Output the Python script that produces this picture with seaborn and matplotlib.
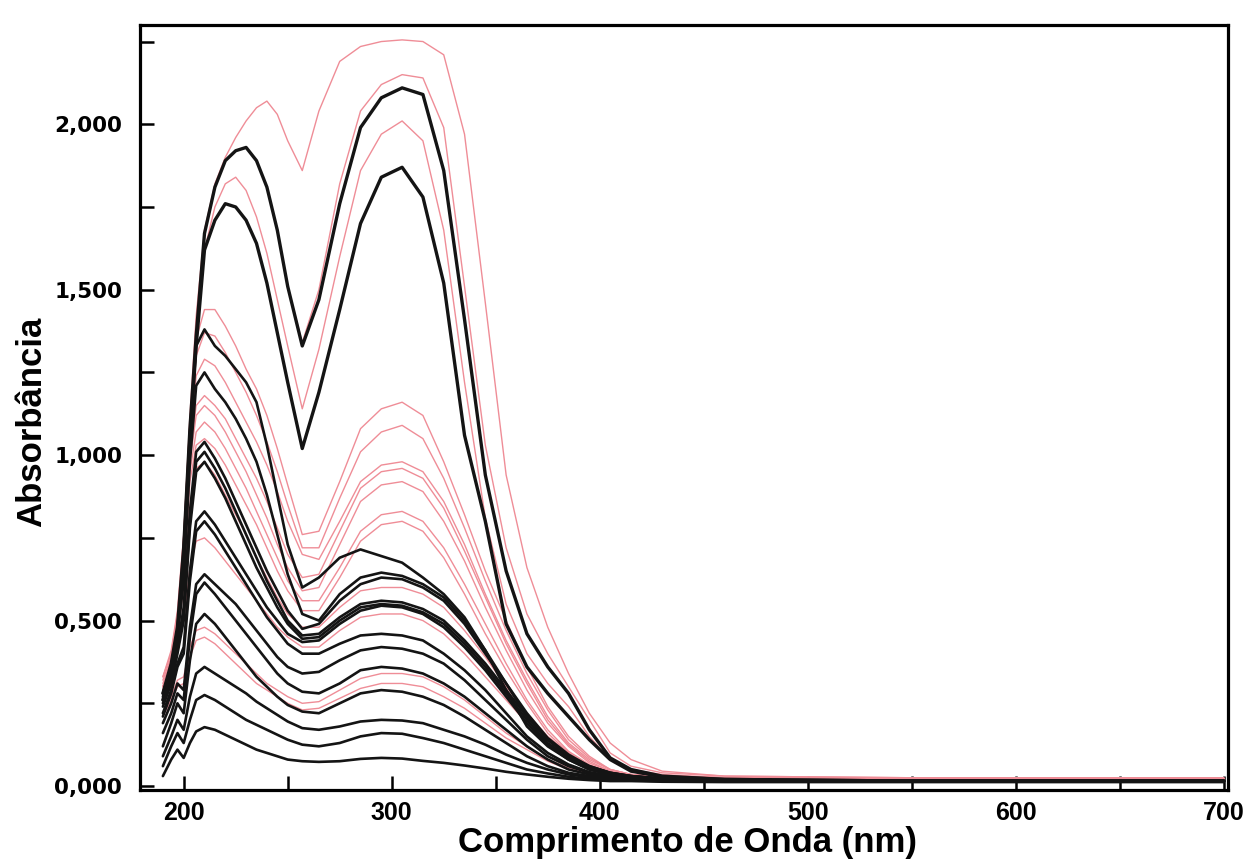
import matplotlib
matplotlib.use("Agg")
import matplotlib.pyplot as plt
import seaborn as sns
import pandas as pd
from matplotlib import font_manager as fm
from matplotlib.ticker import FixedLocator, MultipleLocator

# ---------------- data ----------------
WAVELENGTH = [190, 194, 197, 200, 203, 206,
              210, 215, 220, 225, 230, 235, 240, 245, 250,
              257, 265, 275, 285, 295, 305, 315,
              325, 335, 345, 355, 365, 375, 385, 395, 405, 415,
              430, 460, 550, 700]

# pink spectra
P1 = [0.33, 0.41, 0.53, 0.76, 1.12, 1.42,
      1.68, 1.82, 1.90, 1.96, 2.01, 2.05, 2.07, 2.03, 1.95,
      1.86, 2.04, 2.19, 2.235, 2.25, 2.255, 2.25,
      2.21, 1.97, 1.46, 0.94, 0.66, 0.48, 0.34, 0.22, 0.13, 0.08,
      0.045, 0.03, 0.025, 0.025]
P1B = [0.30, 0.38, 0.50, 0.73, 1.09, 1.37,
       1.67, 1.81, 1.89, 1.92, 1.93, 1.89, 1.81, 1.68, 1.51,
       1.34, 1.50, 1.82, 2.04, 2.12, 2.15, 2.14,
       1.99, 1.51, 1.03, 0.72, 0.52, 0.40, 0.30, 0.20, 0.10, 0.06,
       0.04, 0.03, 0.025, 0.025]
P2 = [0.30, 0.38, 0.50, 0.73, 1.08, 1.35,
      1.62, 1.75, 1.82, 1.84, 1.80, 1.72, 1.61, 1.47, 1.33,
      1.14, 1.32, 1.60, 1.86, 1.97, 2.01, 1.95,
      1.68, 1.22, 0.81, 0.55, 0.40, 0.31, 0.24, 0.15, 0.08, 0.05,
      0.035, 0.025, 0.022, 0.022]
M1 = [0.33, 0.40, 0.52, 0.75, 1.10, 1.35,
      1.44, 1.44, 1.39, 1.33, 1.26, 1.20, 1.12, 1.02, 0.91,
      0.76, 0.77, 0.92, 1.08, 1.14, 1.16, 1.12,
      0.98, 0.82, 0.65, 0.50, 0.36, 0.24, 0.15, 0.09, 0.05, 0.035,
      0.03, 0.025, 0.022, 0.022]
M2 = [0.32, 0.39, 0.51, 0.73, 1.07, 1.30,
      1.37, 1.36, 1.31, 1.25, 1.19, 1.12, 1.04, 0.95, 0.85,
      0.72, 0.72, 0.87, 1.01, 1.07, 1.09, 1.05,
      0.93, 0.78, 0.62, 0.47, 0.34, 0.23, 0.14, 0.085, 0.05, 0.035,
      0.03, 0.025, 0.022, 0.022]
M3 = [0.31, 0.38, 0.50, 0.71, 1.04, 1.24,
      1.29, 1.27, 1.22, 1.16, 1.10, 1.04, 0.97, 0.89, 0.80,
      0.70, 0.685, 0.80, 0.92, 0.97, 0.98, 0.95,
      0.86, 0.73, 0.58, 0.44, 0.32, 0.21, 0.13, 0.08, 0.05, 0.035,
      0.03, 0.025, 0.022, 0.022]
M4 = [0.30, 0.37, 0.49, 0.69, 1.00, 1.15,
      1.18, 1.15, 1.11, 1.05, 0.99, 0.93, 0.86, 0.78, 0.70,
      0.63, 0.64, 0.77, 0.90, 0.95, 0.96, 0.93,
      0.84, 0.71, 0.57, 0.43, 0.31, 0.20, 0.125, 0.075, 0.045, 0.033,
      0.028, 0.025, 0.022, 0.022]
M5 = [0.30, 0.37, 0.48, 0.68, 0.98, 1.12,
      1.15, 1.12, 1.07, 1.01, 0.95, 0.88, 0.81, 0.73, 0.66,
      0.59, 0.60, 0.73, 0.86, 0.91, 0.92, 0.89,
      0.80, 0.68, 0.54, 0.41, 0.29, 0.19, 0.12, 0.07, 0.045, 0.033,
      0.028, 0.025, 0.022, 0.022]
M6 = [0.29, 0.36, 0.47, 0.66, 0.95, 1.07,
      1.10, 1.07, 1.02, 0.96, 0.90, 0.83, 0.76, 0.69, 0.62,
      0.56, 0.56, 0.66, 0.77, 0.82, 0.83, 0.80,
      0.72, 0.61, 0.49, 0.37, 0.26, 0.17, 0.105, 0.065, 0.042, 0.03,
      0.027, 0.024, 0.022, 0.022]
M7 = [0.29, 0.36, 0.46, 0.64, 0.92, 1.03,
      1.05, 1.02, 0.97, 0.91, 0.85, 0.79, 0.72, 0.65, 0.59,
      0.53, 0.53, 0.63, 0.74, 0.79, 0.80, 0.77,
      0.69, 0.58, 0.46, 0.35, 0.25, 0.16, 0.10, 0.06, 0.04, 0.03,
      0.027, 0.024, 0.022, 0.022]
L1 = [0.28, 0.35, 0.45, 0.60, 0.85, 0.96,
      0.98, 0.94, 0.88, 0.82, 0.76, 0.69, 0.63, 0.57, 0.52,
      0.48, 0.48, 0.54, 0.59, 0.60, 0.60, 0.58,
      0.54, 0.47, 0.39, 0.30, 0.22, 0.15, 0.10, 0.06, 0.04, 0.03,
      0.026, 0.024, 0.022, 0.022]
L2 = [0.26, 0.33, 0.42, 0.50, 0.66, 0.74,
      0.75, 0.72, 0.68, 0.64, 0.60, 0.56, 0.52, 0.48, 0.45,
      0.42, 0.42, 0.47, 0.51, 0.52, 0.52, 0.50,
      0.46, 0.40, 0.33, 0.26, 0.19, 0.13, 0.085, 0.055, 0.037, 0.028,
      0.025, 0.023, 0.022, 0.022]
L3 = [0.22, 0.27, 0.32, 0.33, 0.42, 0.47,
      0.48, 0.46, 0.43, 0.40, 0.37, 0.34, 0.31, 0.29, 0.27,
      0.25, 0.255, 0.29, 0.325, 0.34, 0.34, 0.33,
      0.30, 0.26, 0.21, 0.16, 0.12, 0.08, 0.055, 0.04, 0.03, 0.025,
      0.024, 0.022, 0.022, 0.022]
L4 = [0.21, 0.26, 0.30, 0.31, 0.39, 0.44,
      0.45, 0.43, 0.40, 0.37, 0.34, 0.31, 0.29, 0.27, 0.25,
      0.23, 0.235, 0.265, 0.295, 0.31, 0.31, 0.30,
      0.27, 0.235, 0.19, 0.145, 0.11, 0.075, 0.05, 0.037, 0.028, 0.024,
      0.023, 0.022, 0.022, 0.022]

# black spectra
B1 = [0.28, 0.37, 0.48, 0.72, 1.08, 1.36,
      1.67, 1.81, 1.89, 1.92, 1.93, 1.89, 1.81, 1.68, 1.51,
      1.33, 1.47, 1.76, 1.99, 2.08, 2.11, 2.09,
      1.86, 1.41, 0.94, 0.65, 0.46, 0.36, 0.28, 0.17, 0.085, 0.05,
      0.03, 0.02, 0.015, 0.015]
B2 = [0.26, 0.35, 0.46, 0.70, 1.05, 1.33,
      1.62, 1.71, 1.76, 1.75, 1.71, 1.64, 1.52, 1.37, 1.22,
      1.02, 1.19, 1.44, 1.70, 1.84, 1.87, 1.78,
      1.52, 1.06, 0.80, 0.49, 0.36, 0.28, 0.21, 0.14, 0.08, 0.045,
      0.028, 0.02, 0.015, 0.015]
C1 = [0.28, 0.36, 0.47, 0.66, 1.05, 1.33,
      1.38, 1.33, 1.30, 1.26, 1.22, 1.16, 1.03, 0.88, 0.73,
      0.60, 0.63, 0.69, 0.715, 0.695, 0.675, 0.63,
      0.58, 0.51, 0.41, 0.29, 0.18, 0.12, 0.08, 0.05, 0.035, 0.03,
      0.022, 0.018, 0.015, 0.015]
C2 = [0.27, 0.35, 0.45, 0.62, 0.98, 1.21,
      1.25, 1.20, 1.16, 1.11, 1.05, 0.98, 0.88, 0.76, 0.64,
      0.52, 0.50, 0.58, 0.63, 0.645, 0.635, 0.61,
      0.57, 0.50, 0.41, 0.31, 0.21, 0.14, 0.09, 0.06, 0.04, 0.03,
      0.022, 0.018, 0.015, 0.015]
C3 = [0.26, 0.33, 0.42, 0.54, 0.83, 1.01,
      1.04, 0.99, 0.93, 0.86, 0.79, 0.72, 0.65, 0.59, 0.53,
      0.475, 0.49, 0.56, 0.61, 0.63, 0.625, 0.60,
      0.56, 0.49, 0.40, 0.31, 0.22, 0.145, 0.095, 0.06, 0.04, 0.03,
      0.022, 0.018, 0.015, 0.015]
C4 = [0.25, 0.32, 0.41, 0.52, 0.80, 0.98,
      1.01, 0.96, 0.90, 0.83, 0.76, 0.69, 0.62, 0.56, 0.50,
      0.455, 0.46, 0.51, 0.55, 0.56, 0.555, 0.535,
      0.50, 0.44, 0.37, 0.29, 0.21, 0.14, 0.09, 0.058, 0.04, 0.03,
      0.022, 0.018, 0.015, 0.015]
C5 = [0.24, 0.31, 0.40, 0.50, 0.78, 0.95,
      0.98, 0.93, 0.87, 0.80, 0.73, 0.66, 0.60, 0.54, 0.49,
      0.445, 0.45, 0.50, 0.54, 0.55, 0.545, 0.525,
      0.49, 0.43, 0.36, 0.28, 0.20, 0.13, 0.085, 0.055, 0.037, 0.028,
      0.022, 0.018, 0.015, 0.015]
C6 = [0.22, 0.29, 0.37, 0.42, 0.65, 0.80,
      0.83, 0.79, 0.74, 0.69, 0.64, 0.59, 0.54, 0.50, 0.46,
      0.435, 0.44, 0.49, 0.53, 0.545, 0.54, 0.52,
      0.48, 0.42, 0.35, 0.27, 0.19, 0.125, 0.08, 0.05, 0.035, 0.027,
      0.02, 0.017, 0.015, 0.015]
C7 = [0.21, 0.28, 0.36, 0.40, 0.62, 0.77,
      0.80, 0.76, 0.71, 0.66, 0.61, 0.56, 0.51, 0.47, 0.43,
      0.40, 0.40, 0.43, 0.455, 0.46, 0.455, 0.44,
      0.40, 0.35, 0.29, 0.22, 0.15, 0.10, 0.065, 0.042, 0.03, 0.025,
      0.02, 0.017, 0.015, 0.015]
C8 = [0.19, 0.25, 0.31, 0.29, 0.48, 0.61,
      0.64, 0.61, 0.58, 0.55, 0.51, 0.47, 0.43, 0.39, 0.36,
      0.34, 0.345, 0.38, 0.41, 0.42, 0.415, 0.40,
      0.37, 0.32, 0.26, 0.20, 0.14, 0.09, 0.06, 0.04, 0.028, 0.022,
      0.018, 0.016, 0.015, 0.015]
C9 = [0.16, 0.22, 0.28, 0.26, 0.45, 0.58,
      0.615, 0.58, 0.54, 0.50, 0.46, 0.42, 0.38, 0.34, 0.31,
      0.285, 0.28, 0.31, 0.35, 0.36, 0.355, 0.34,
      0.31, 0.27, 0.22, 0.17, 0.12, 0.08, 0.05, 0.035, 0.025, 0.02,
      0.017, 0.015, 0.015, 0.015]
C10 = [0.12, 0.19, 0.25, 0.22, 0.38, 0.49,
       0.52, 0.49, 0.45, 0.41, 0.37, 0.33, 0.30, 0.27, 0.245,
       0.225, 0.22, 0.25, 0.28, 0.29, 0.285, 0.27,
       0.245, 0.21, 0.17, 0.13, 0.09, 0.06, 0.04, 0.03, 0.022, 0.02,
       0.017, 0.015, 0.015, 0.015]
C11 = [0.09, 0.15, 0.20, 0.17, 0.27, 0.34,
       0.36, 0.34, 0.32, 0.30, 0.28, 0.255, 0.235, 0.215, 0.195,
       0.175, 0.17, 0.18, 0.195, 0.20, 0.198, 0.19,
       0.17, 0.15, 0.125, 0.095, 0.07, 0.05, 0.035, 0.027, 0.022, 0.02,
       0.017, 0.015, 0.015, 0.015]
C12 = [0.06, 0.12, 0.16, 0.13, 0.20, 0.26,
       0.275, 0.26, 0.24, 0.22, 0.20, 0.185, 0.17, 0.155, 0.14,
       0.125, 0.12, 0.13, 0.15, 0.16, 0.158, 0.145,
       0.13, 0.11, 0.09, 0.07, 0.05, 0.038, 0.028, 0.022, 0.018, 0.017,
       0.015, 0.015, 0.015, 0.015]
C13 = [0.03, 0.08, 0.11, 0.085, 0.13, 0.165,
       0.178, 0.17, 0.155, 0.14, 0.125, 0.11, 0.10, 0.09, 0.08,
       0.075, 0.073, 0.075, 0.082, 0.085, 0.083, 0.076,
       0.07, 0.062, 0.053, 0.043, 0.035, 0.028, 0.022, 0.018, 0.015, 0.015,
       0.013, 0.012, 0.012, 0.012]

PINK_SERIES = {"P1": P1, "P1b": P1B, "P2": P2, "M1": M1, "M2": M2, "M3": M3,
               "M4": M4, "M5": M5, "M6": M6, "M7": M7, "L1": L1, "L2": L2,
               "L3": L3, "L4": L4}
BLACK_SERIES = {"B1": B1, "B2": B2, "C1": C1, "C2": C2, "C3": C3, "C4": C4,
                "C5": C5, "C6": C6, "C7": C7, "C8": C8, "C9": C9, "C10": C10,
                "C11": C11, "C12": C12, "C13": C13}
THICK_BLACK = ["B1", "B2"]

X_TICKS = [200, 300, 400, 500, 600, 700]
X_TICK_LABELS = ["200", "300", "400", "500", "600", "700"]
Y_TICKS = [0.0, 0.5, 1.0, 1.5, 2.0]
Y_TICK_LABELS = ["0,000", "0,500", "1,000", "1,500", "2,000"]
X_LABEL = "Comprimento de Onda (nm)"
Y_LABEL = "Absorbância"

# ---------------- build long table ----------------
rows = []
for group, series in (("pink", PINK_SERIES), ("black", BLACK_SERIES)):
    for name, vals in series.items():
        if len(vals) != len(WAVELENGTH):
            raise ValueError(f"{name}: {len(vals)} values")
        for w, a in zip(WAVELENGTH, vals):
            rows.append({"wl": w, "A": a, "curve": name, "group": group})
df = pd.DataFrame(rows)

# ---------------- style ----------------
sns.set_style("white")
names = {f.name for f in fm.fontManager.ttflist}
NARROW = "Liberation Sans Narrow" if "Liberation Sans Narrow" in names else "Liberation Sans"
plt.rcParams["font.family"] = ["DejaVu Sans"]
plt.rcParams["text.color"] = "black"
plt.rcParams["axes.labelcolor"] = "black"

PINK = "#ef8d97"
BLACK = "#141414"

fig = plt.figure(figsize=(12.43, 8.67), dpi=100)
fig.patch.set_facecolor("white")
W, H = 1243, 867
ax = fig.add_axes([140 / W, 1 - 790 / H, (1228 - 140) / W, (790 - 25) / H])

for name in PINK_SERIES:
    sns.lineplot(data=df[df.curve == name], x="wl", y="A", ax=ax,
                 color=PINK, linewidth=1.0, estimator=None, legend=False)
for name in BLACK_SERIES:
    lw = 2.4 if name in THICK_BLACK else 1.9
    sns.lineplot(data=df[df.curve == name], x="wl", y="A", ax=ax,
                 color=BLACK, linewidth=lw, estimator=None, legend=False)

ax.set_xlim(179, 702)
ax.set_ylim(-0.012, 2.30)

ax.xaxis.set_major_locator(FixedLocator(X_TICKS))
ax.set_xticklabels(X_TICK_LABELS)
ax.xaxis.set_minor_locator(MultipleLocator(50))
ax.yaxis.set_major_locator(FixedLocator(Y_TICKS))
ax.set_yticklabels(Y_TICK_LABELS)
ax.yaxis.set_minor_locator(MultipleLocator(0.25))

ax.tick_params(axis="both", which="both", direction="in", length=10,
               width=1.8, color="black", labelcolor="black",
               bottom=True, left=True, top=False, right=False)
ax.tick_params(axis="y", which="major", pad=13)
ax.tick_params(axis="x", which="major", pad=8)
for lab in ax.get_yticklabels():
    lab.set_fontfamily("DejaVu Sans")
    lab.set_fontweight("bold")
    lab.set_fontsize(15.5)
for lab in ax.get_xticklabels():
    lab.set_fontfamily(NARROW)
    lab.set_fontweight("bold")
    lab.set_fontsize(18)

for sp in ax.spines.values():
    sp.set_visible(True)
    sp.set_linewidth(2.3)
    sp.set_color("black")

ax.set_xlabel(X_LABEL, fontfamily=NARROW, fontweight="bold", fontsize=25,
              color="black")
ax.set_ylabel(Y_LABEL, fontfamily=NARROW, fontweight="bold", fontsize=25,
              color="black")
ax.xaxis.set_label_coords((687 - 140) / 1088, (790 - 826) / 765)
ax.yaxis.set_label_coords((48 - 140) / 1088, (790 - 422) / 765)

fig.savefig("out.png", dpi=100, facecolor="white")
